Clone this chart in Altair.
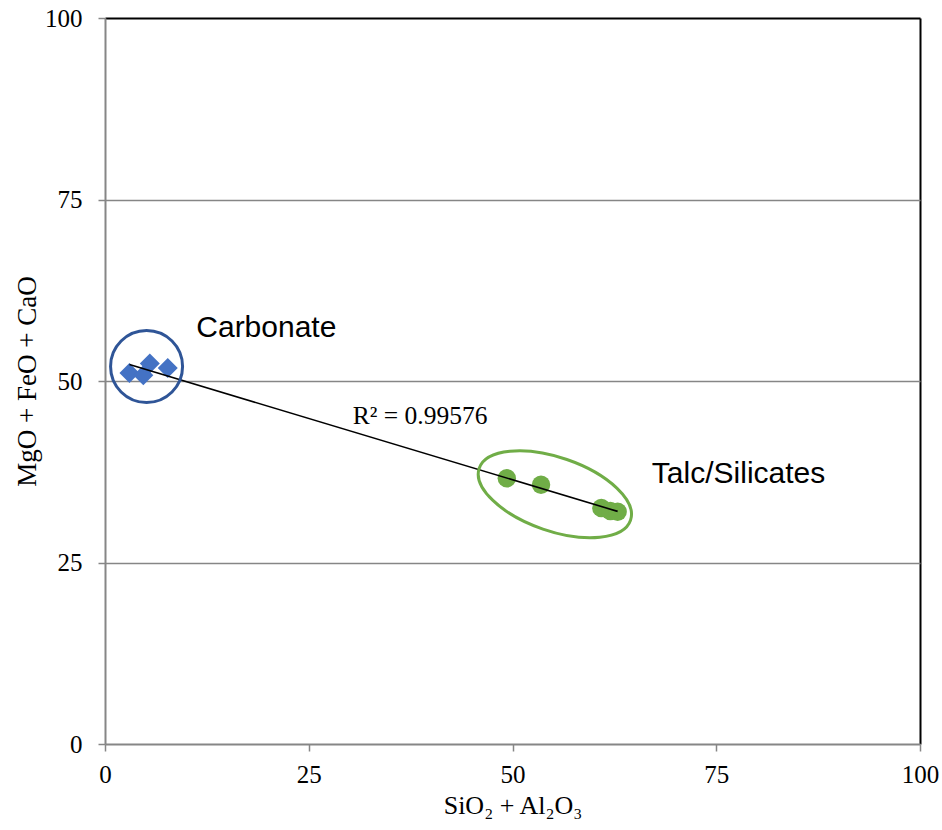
import altair as alt
import pandas as pd

# ---- data ----
carb_x = [3.0, 4.7, 5.5, 7.7]
carb_y = [51.1, 50.8, 52.4, 51.8]
talc_x = [49.3, 53.5, 60.9, 62.0, 62.9]
talc_y = [36.6, 35.7, 32.5, 32.1, 32.0]

axis_ticks = [0, 25, 50, 75, 100]

label_text = ["Carbonate", "Talc/Silicates"]
label_x = [11.2, 67.1]
label_y = [56.1, 35.95]

r2_text = ["R² = 0.99576"]
r2_x = [30.4]
r2_y = [44.1]

ring_x = [5.1]
ring_y = [52.0]
ell_x = [55.2]
ell_y = [34.4]

pts = pd.DataFrame({
    "x": carb_x + talc_x,
    "y": carb_y + talc_y,
    "group": ["Carbonate"] * len(carb_x) + ["Talc/Silicates"] * len(talc_x),
})
carb = pts[pts.group == "Carbonate"]
talc = pts[pts.group == "Talc/Silicates"]

xs = alt.Scale(domain=[0, 100], nice=False, zero=False)
ys = alt.Scale(domain=[0, 100], nice=False, zero=False)

GRAY = "#868686"
SERIF = "Liberation Serif"
SANS = "Liberation Sans"

x_axis = alt.Axis(
    values=axis_ticks, title="SiO₂ + Al₂O₃",
    grid=True, gridColor="black", gridWidth=2,
    gridOpacity={"condition": {"test": "datum.value >= 100", "value": 1}, "value": 0},
    domainColor=GRAY, domainWidth=2, tickColor=GRAY, tickWidth=1.5, tickSize=7,
    labelFont=SERIF, labelFontSize=25, labelColor="black", labelPadding=11,
    titleFont=SERIF, titleFontSize=26, titleFontWeight="normal", titleColor="black",
    titlePadding=5, labelFlush=False,
)
y_axis = alt.Axis(
    values=axis_ticks, title="MgO + FeO + CaO",
    grid=True,
    gridColor={"condition": {"test": "datum.value >= 100", "value": "black"}, "value": GRAY},
    gridWidth={"condition": {"test": "datum.value >= 100", "value": 2}, "value": 1.5},
    gridOpacity={"condition": {"test": "datum.value <= 0", "value": 0}, "value": 1},
    domainColor=GRAY, domainWidth=2, tickColor=GRAY, tickWidth=1.5, tickSize=7,
    labelFont=SERIF, labelFontSize=25, labelColor="black", labelPadding=16,
    titleFont=SERIF, titleFontSize=27, titleFontWeight="normal", titleColor="black",
    titlePadding=3, labelFlush=False,
)

base = alt.Chart(pts)

carb_pts = alt.Chart(carb).mark_point(
    shape="diamond", filled=True, size=400, color="#4472C4", opacity=1
).encode(x=alt.X("x:Q", scale=xs, axis=x_axis), y=alt.Y("y:Q", scale=ys, axis=y_axis))

talc_pts = alt.Chart(talc).mark_point(
    shape="circle", filled=True, size=340, color="#70AD47", opacity=1
).encode(x=alt.X("x:Q", scale=xs), y=alt.Y("y:Q", scale=ys))

trend = base.transform_regression("x", "y").mark_line(
    color="black", strokeWidth=1.6
).encode(x=alt.X("x:Q", scale=xs), y=alt.Y("y:Q", scale=ys))

ring = alt.Chart(pd.DataFrame({"x": ring_x, "y": ring_y})).mark_point(
    shape="circle", filled=False, size=72 * 72, stroke="#2F5597", strokeWidth=3, opacity=1
).encode(x=alt.X("x:Q", scale=xs), y=alt.Y("y:Q", scale=ys))

ELLIPSE = ("M-1,0 C-1,-0.254 -0.5523,-0.46 0,-0.46 C0.5523,-0.46 1,-0.254 1,0 "
           "C1,0.254 0.5523,0.46 0,0.46 C-0.5523,0.46 -1,0.254 -1,0 Z")
ell = alt.Chart(pd.DataFrame({"x": ell_x, "y": ell_y})).mark_point(
    shape=ELLIPSE, filled=False, size=160 * 160, angle=19,
    stroke="#70AD47", strokeWidth=3, opacity=1
).encode(x=alt.X("x:Q", scale=xs), y=alt.Y("y:Q", scale=ys))

labels = alt.Chart(pd.DataFrame({"t": label_text, "x": label_x, "y": label_y})).mark_text(
    align="left", baseline="alphabetic", font=SANS, fontSize=30, color="black"
).encode(x=alt.X("x:Q", scale=xs), y=alt.Y("y:Q", scale=ys), text="t:N")

r2 = alt.Chart(pd.DataFrame({"t": r2_text, "x": r2_x, "y": r2_y})).mark_text(
    align="left", baseline="alphabetic", font=SERIF, fontSize=25.5, color="black"
).encode(x=alt.X("x:Q", scale=xs), y=alt.Y("y:Q", scale=ys), text="t:N")

chart = alt.layer(carb_pts, talc_pts, trend, ring, ell, labels, r2).properties(
    width=815, height=726,
    autosize=alt.AutoSizeParams(type="none"),
    padding={"left": 105, "top": 18, "right": 22, "bottom": 86},
    background="white",
).configure_view(stroke=None)

chart.save("out.html", embed_options={"renderer": "svg", "actions": False})
